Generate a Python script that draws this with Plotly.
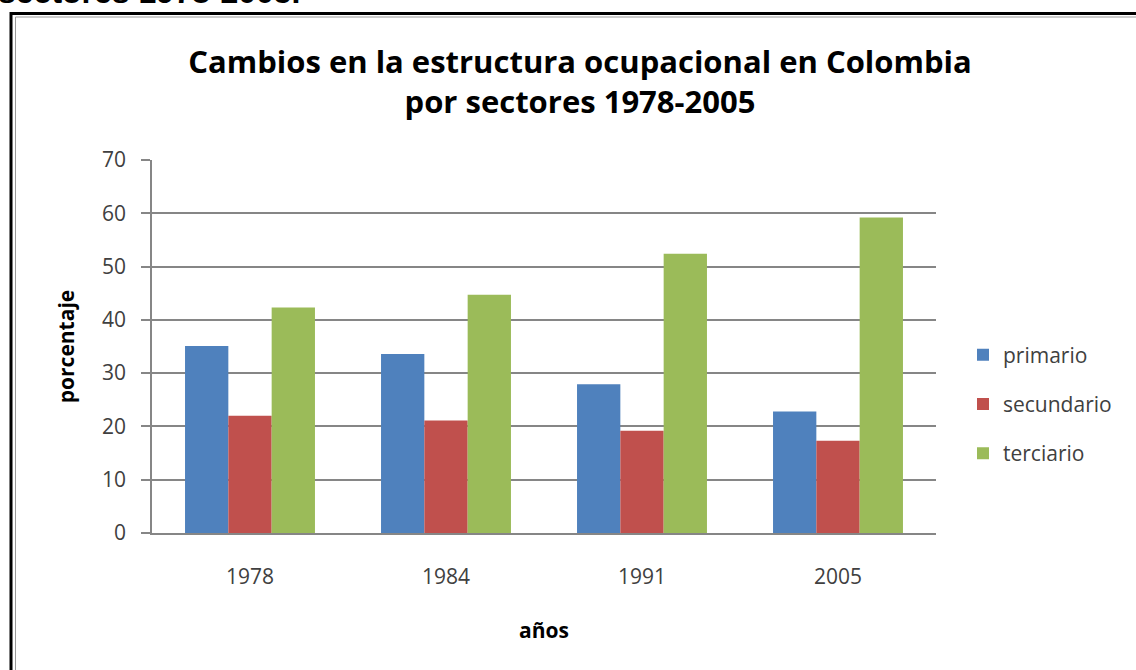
import plotly.graph_objects as go

years = ["1978", "1984", "1991", "2005"]
primario = [35.1, 33.6, 27.9, 22.8]
secundario = [22.0, 21.1, 19.2, 17.3]
terciario = [42.3, 44.7, 52.4, 59.2]
series_names = ["primario", "secundario", "terciario"]
colors = ["#4F81BD", "#C0504D", "#9BBB59"]

W, H = 1136, 670
L, R, T, B = 152, 936, 160, 533

def px(x):
    return (x - L) / (R - L)

def py(y):
    return (B - y) / (B - T)

fig = go.Figure()
for name, vals, col in zip(series_names, [primario, secundario, terciario], colors):
    fig.add_trace(go.Bar(x=years, y=vals, name=name, marker_color=col,
                         marker_line_width=0, legendgroup=name))

font_family = "'Open Sans', Lato, sans-serif"
fig.update_layout(
    width=W, height=H,
    margin=dict(l=L, r=W - R, t=T, b=H - B),
    paper_bgcolor="white", plot_bgcolor="white",
    barmode="group", bargap=0.337, bargroupgap=0,
    font=dict(family=font_family, size=21, color="#404040"),
    title=dict(text="<b>Cambios en la estructura ocupacional en Colombia<br>por sectores 1978-2005</b>",
               x=580 / W, xref="container", xanchor="center",
               y=1 - 73 / H, yanchor="middle",
               font=dict(family=font_family, size=31, color="black")),
    showlegend=True,
    legend=dict(x=px(963), xanchor="left", y=py(404), yanchor="middle",
                font=dict(size=21, color="#404040"), tracegroupgap=19,
                bgcolor="rgba(0,0,0,0)"),
    xaxis=dict(showline=True, linecolor="#868686", linewidth=1.5, ticks="",
               showgrid=False, ticklabelstandoff=24,
               title=dict(text="<b>años</b>", font=dict(size=21, color="black"), standoff=34)),
    yaxis=dict(range=[0, 70], dtick=10, showline=True, linecolor="#868686", linewidth=1.5,
               gridcolor="#868686", gridwidth=1.5, ticks="outside", ticklen=9,
               tickcolor="#868686", tickwidth=1.5, ticklabelstandoff=11, zeroline=False,
               title=dict(text="<b>porcentaje</b>", font=dict(size=21, color="black"), standoff=22)),
    shapes=[
        dict(type="rect", xref="paper", yref="paper",
             x0=px(11), x1=px(1170), y0=py(720), y1=py(13.5),
             line=dict(color="black", width=3), fillcolor="rgba(0,0,0,0)", layer="above"),
        dict(type="rect", xref="paper", yref="paper",
             x0=px(15.5), x1=px(1170), y0=py(720), y1=py(17),
             line=dict(color="#999999", width=1), fillcolor="rgba(0,0,0,0)", layer="above"),
    ],
    annotations=[
        dict(text="<b>sectores 1978-2005.</b>", xref="paper", yref="paper",
             x=px(302), xanchor="right", y=py(11.5), yanchor="bottom", showarrow=False,
             font=dict(family="Liberation Sans, Arial, sans-serif", size=32, color="black")),
    ],
)

fig.write_html("out.html", config={"displayModeBar": False},
               post_script="document.body.style.margin='0';document.body.style.overflow='hidden';")
